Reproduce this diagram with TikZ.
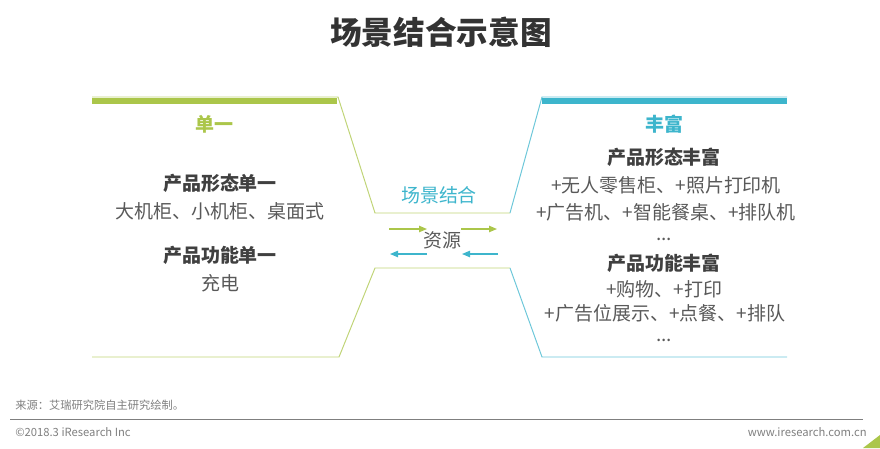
\documentclass[tikz,border=0pt]{standalone}
\usepackage{fontspec}
\setmainfont{Noto Sans CJK SC}
\usetikzlibrary{arrows.meta,positioning}
\definecolor{leafgreen}{HTML}{ABC64A}
\definecolor{seacyan}{HTML}{3DB5CC}
\definecolor{titlegray}{HTML}{333333}
\definecolor{inkgray}{HTML}{404040}
\definecolor{textgray}{HTML}{595959}
\definecolor{notegray}{HTML}{7F7F7F}

\begin{document}
\begin{tikzpicture}[
    x=0.025cm, y=-0.025cm,
    every node/.style = {inner sep=0pt},
    title/.style = {font=\fontsize{22.5}{26}\selectfont\bfseries, text=titlegray},
    tag/.style = {font=\fontsize{13.5}{16}\selectfont\bfseries},
    head/.style = {font=\fontsize{13.5}{16}\selectfont\bfseries, text=inkgray},
    item/.style = {font=\fontsize{13.5}{16}\selectfont, text=textgray},
    note/.style = {font=\fontsize{8}{10}\selectfont, text=notegray},
    bar/.style = {line width=4.3pt},
    edge/.style = {line width=0.7pt},
    flow/.style = {
        -{Triangle[length=2mm,width=1.6mm]},
        line width=0.8pt
    }
]
\useasboundingbox (0,0) rectangle (880,448);

\node[title] (title) at (441,32) {场景结合示意图};

% outlines
\draw[edge, leafgreen!75] (92,97) -- (338,97) -- (375,213) -- (510,213);
\draw[edge, seacyan!75] (510,213) -- (542,97) -- (787,97);
\draw[bar, leafgreen] (92,101) -- (337,101);
\draw[bar, seacyan] (542,101) -- (787,101);
\draw[edge, leafgreen!75] (92,357) -- (339,357) -- (375,268) -- (510,268);
\draw[edge, seacyan!75] (510,268) -- (542,357) -- (787,357);

% left side
\node[tag, text=leafgreen] (single) at (214,124) {单一};
\node[head] (formone) at (220,183) {产品形态单一};
\node[item] (formonelist) at (220,211) {大机柜、小机柜、桌面式};
\node[head] (funcone) at (220,255) {产品功能单一};
\node[item] (funconelist) at (220,283) {充电};

% right side
\node[tag, text=seacyan] (rich) at (664,124) {丰富};
\node[head] (formrich) at (664,157) {产品形态丰富};
\node[item] (formrichA) at (666,185) {+无人零售柜、+照片打印机};
\node[item] (formrichB) at (666,212) {+广告机、+智能餐桌、+排队机};
\node[item, anchor=base] (formrichC) at (664,240) {...};
\node[head] (funcrich) at (664,263) {产品功能丰富};
\node[item] (funcrichA) at (664,289) {+购物、+打印};
\node[item] (funcrichB) at (665,313) {+广告位展示、+点餐、+排队};
\node[item, anchor=base] (funcrichC) at (664,341) {...};

% middle
\node[item, text=seacyan] (merge) at (439,195) {场景结合};
\node[item] (resource) at (442,240) {资源};

\coordinate (gA) at (389,229);
\coordinate (gB) at (427,229);
\coordinate (gC) at (461,229);
\coordinate (gD) at (497,229);
\coordinate (cA) at (427,254);
\coordinate (cB) at (390,254);
\coordinate (cC) at (498,254);
\coordinate (cD) at (462,254);

\draw[flow, leafgreen] (gA) -- (gB);
\draw[flow, leafgreen] (gC) -- (gD);
\draw[flow, seacyan] (cA) -- (cB);
\draw[flow, seacyan] (cC) -- (cD);

% footer
\node[note, anchor=west] (source) at (15,405) {来源：艾瑞研究院自主研究绘制。};
\draw[notegray, line width=0.6pt] (10,419) -- (863,419);
\node[note, anchor=west] (copyright) at (15,432) {©2018.3 iResearch Inc};
\node[note, anchor=east] (website) at (867,432) {www.iresearch.com.cn};
\fill[leafgreen] (863,448) -- (880,448) -- (880,435) -- cycle;

\end{tikzpicture}
\end{document}
